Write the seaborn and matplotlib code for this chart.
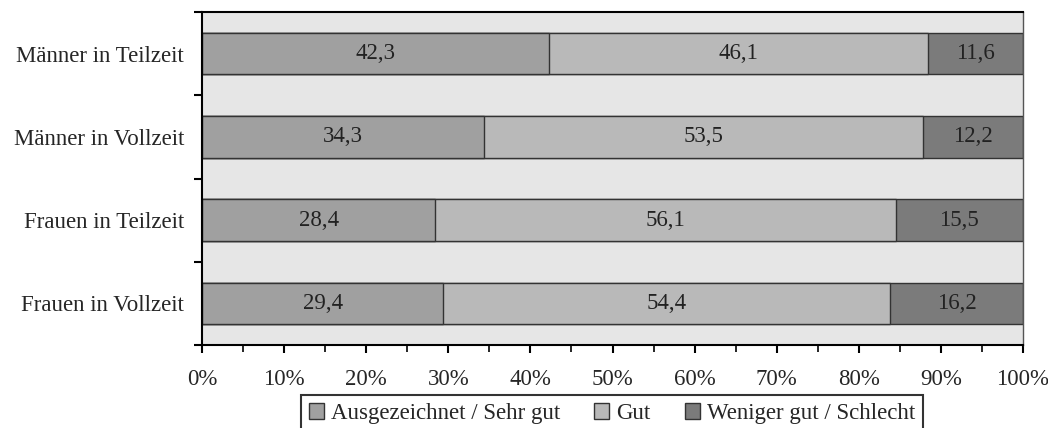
import numpy as np
import pandas as pd
import matplotlib
matplotlib.use("Agg")
import matplotlib.pyplot as plt
import seaborn as sns
from matplotlib.patches import Patch
from matplotlib.ticker import MultipleLocator, FixedLocator

groups = ["Männer in Teilzeit", "Männer in Vollzeit", "Frauen in Teilzeit", "Frauen in Vollzeit"]
series = ["Ausgezeichnet / Sehr gut", "Gut", "Weniger gut / Schlecht"]
sehr_gut = [42.3, 34.3, 28.4, 29.4]
gut = [46.1, 53.5, 56.1, 54.4]
schlecht = [11.6, 12.2, 15.5, 16.2]
colors = ["#a0a0a0", "#b9b9b9", "#7b7b7b"]

FS = 16.5

sns.set_style("white")
plt.rcParams["font.family"] = ["Liberation Serif", "DejaVu Serif"]

df = pd.DataFrame({"group": groups, "a": sehr_gut, "b": gut, "c": schlecht})
df["cum_a"] = df["a"]
df["cum_b"] = df["a"] + df["b"]
df["cum_c"] = df["cum_b"] + df["c"]

fig = plt.figure(figsize=(10.48, 4.28), dpi=100)
ax = fig.add_axes([202 / 1048, 1 - 345 / 428, 821 / 1048, 333 / 428])
ax.set_facecolor("#e6e6e6")

# stacked by overdrawing cumulative totals, largest first
for col, color in zip(["cum_c", "cum_b", "cum_a"], colors[::-1]):
    sns.barplot(data=df, x=col, y="group", color=color, width=0.5,
                edgecolor="#333333", linewidth=1, saturation=1, ax=ax)

for i, row in df.iterrows():
    starts = [0, row["cum_a"], row["cum_b"]]
    for start, val in zip(starts, [row["a"], row["b"], row["c"]]):
        ax.text(start + val / 2, i, f"{val:.1f}".replace(".", ","),
                ha="center", va="center", fontsize=FS, color="#222222")

ax.set_xlim(0, 100)
ax.set_ylim(3.5, -0.5)
ax.set_xlabel("")
ax.set_ylabel("")
ax.xaxis.set_minor_locator(MultipleLocator(5))
ax.set_xticks(np.arange(0, 101, 10))
ax.set_xticklabels([f"{v}%" for v in range(0, 101, 10)], fontsize=FS)
ax.yaxis.set_minor_locator(FixedLocator([-0.5, 0.5, 1.5, 2.5, 3.5]))
ax.tick_params(axis="y", which="major", length=0, labelsize=FS, pad=13)
ax.tick_params(axis="y", which="minor", length=6, width=1.5, color="black", left=True)
ax.tick_params(axis="x", which="major", length=6, width=1.5, color="black", bottom=True, pad=11)
ax.tick_params(axis="x", which="minor", length=5, width=1.2, color="black", bottom=True)

for side in ["left", "bottom", "top"]:
    ax.spines[side].set_visible(True)
    ax.spines[side].set_color("black")
    ax.spines[side].set_linewidth(1.5)
ax.spines["right"].set_color("#555555")
ax.spines["right"].set_linewidth(1)

handles = [Patch(facecolor=c, edgecolor="#333333", label=s) for c, s in zip(colors, series)]
leg = fig.legend(handles=handles, loc="upper center", bbox_to_anchor=(612 / 1048, 1 - 395 / 428), ncol=3,
                 fontsize=FS, frameon=True, fancybox=False, handlelength=0.65, handleheight=0.65,
                 handletextpad=0.3, columnspacing=1.5, borderpad=0.35, borderaxespad=0)
leg.get_frame().set_edgecolor("black")
leg.get_frame().set_linewidth(1.5)

fig.savefig("out.png", dpi=100)
